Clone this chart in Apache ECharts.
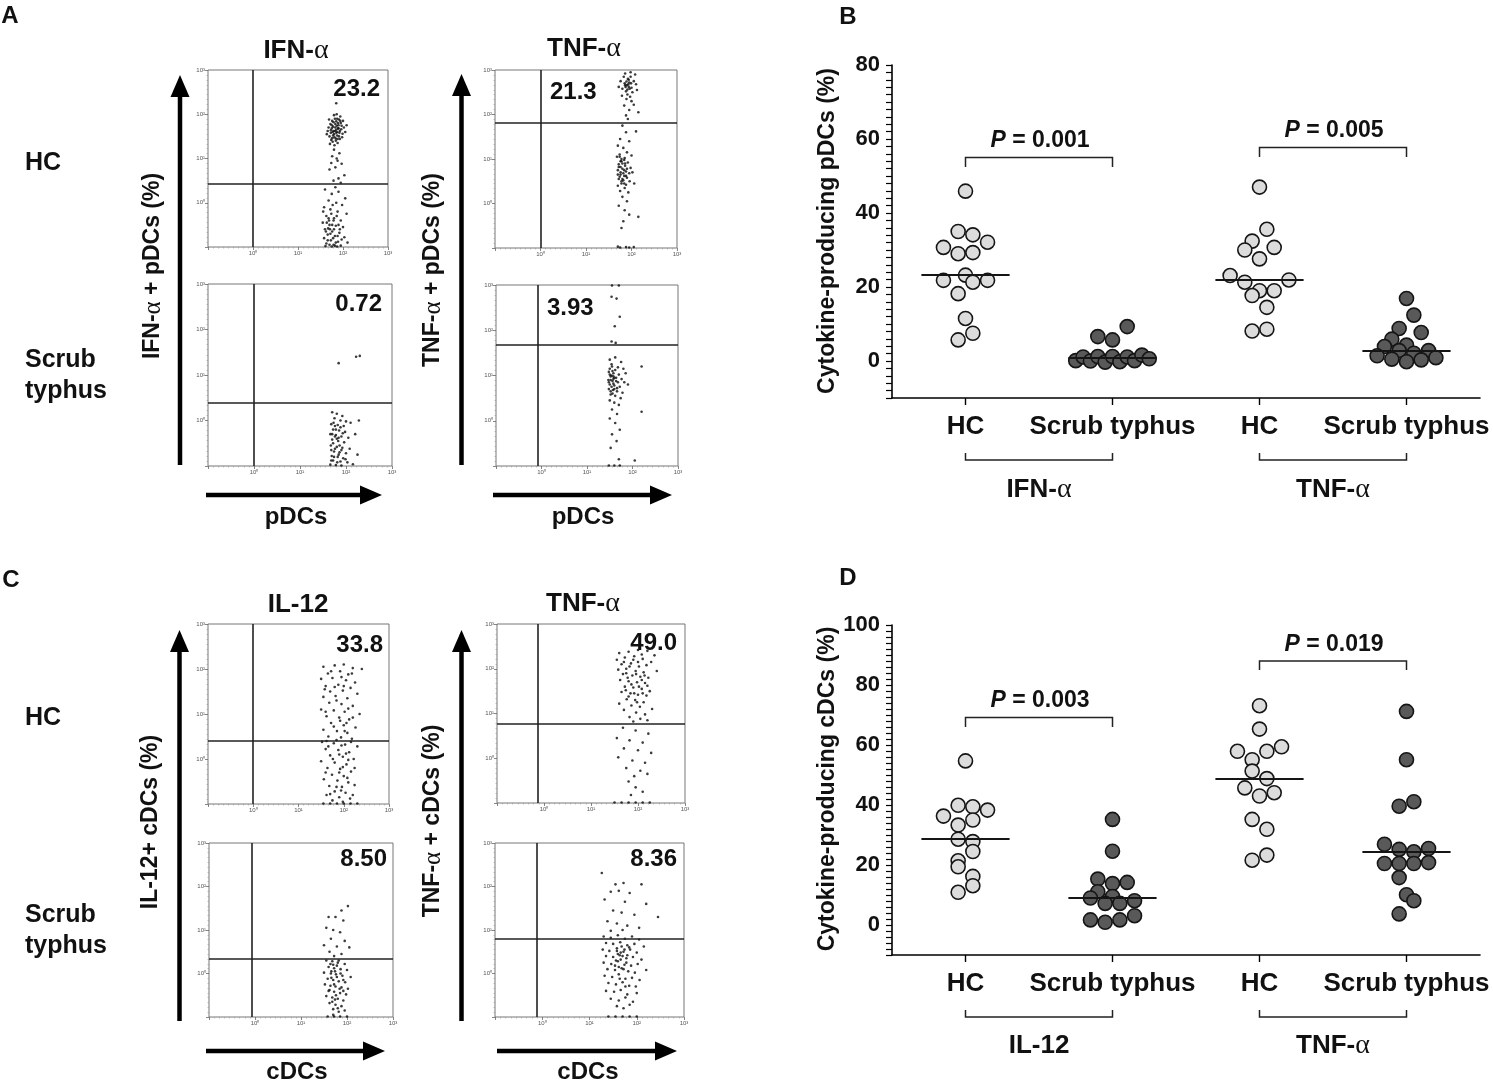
<!DOCTYPE html>
<html><head><meta charset="utf-8">
<script src="https://cdn.jsdelivr.net/npm/echarts@6.0.0/dist/echarts.min.js"></script>
<style>html,body{margin:0;padding:0;background:#fff}#c{width:1493px;height:1082px}</style>
</head><body><div id="c"></div>
<script>
// ---------------- DATA ----------------
// Flow cytometry dot plots, coordinates in log10 units (x: marker, y: cytokine)
const flowA_HC_IFN = [[1.85,1.65],[1.78,1.72],[1.92,1.58],[1.70,1.50],[1.95,1.80],[1.82,1.90],[1.74,1.42],[1.88,1.35],[2.02,1.70],[1.66,1.62],[1.80,1.55],[1.90,1.75],[1.76,1.85],[1.98,1.48],[1.84,1.45],[1.72,1.78],[1.94,1.95],[1.86,2.00],[1.68,1.70],[2.05,1.60],[1.79,1.62],[1.87,1.52],[1.73,1.58],[1.96,1.66],[1.83,1.78],[1.77,1.38],[1.91,1.88],[1.69,1.88],[2.00,1.85],[1.81,1.30],[1.89,1.68],[1.75,1.68],[1.85,1.84],[1.93,1.44],[1.71,1.33],[1.99,1.56],[1.80,1.98],[1.64,1.55],[2.08,1.75],[1.87,1.60],
 [1.83,1.70],[1.77,1.60],[1.89,1.80],[1.81,1.48],[1.93,1.62],[1.75,1.75],[1.87,1.90],[1.79,1.82],[1.91,1.50],[1.85,1.58],[1.73,1.64],[1.97,1.74],[1.84,1.40],[1.78,1.52],[1.90,1.68],[1.82,1.62],[1.86,1.74],[1.76,1.46],[1.94,1.85],[1.88,1.44],
 [1.85,2.25],[1.80,1.20],[1.92,1.12],[1.76,1.05],[1.88,0.95],[1.97,0.88],[1.83,0.80],[1.70,0.75],[2.03,0.62],[1.90,0.55],[1.79,0.50],[1.95,0.45],[1.86,1.00],[1.74,0.90],
 [1.60,0.30],[1.75,0.20],[1.90,0.25],[2.05,0.10],[1.68,0.05],[1.85,0.00],[1.98,-0.05],[1.58,-0.10],[1.72,-0.15],[1.88,-0.20],[2.08,-0.25],[1.63,-0.30],[1.80,-0.35],[1.95,-0.40],[1.55,-0.45],[1.70,-0.50],[1.84,-0.52],[2.00,-0.55],[1.60,-0.60],[1.76,-0.65],[1.92,-0.68],[1.66,-0.72],[1.82,-0.75],[2.03,-0.78],[1.58,-0.80],[1.73,-0.85],[1.89,-0.88],[1.63,-0.92],[1.79,-0.95],[1.95,-0.97],[1.69,-0.40],[1.86,-0.30],[1.56,-0.20],[1.77,-0.05],[1.93,-0.60],[1.61,-0.98],[1.75,-0.99],[1.87,-0.99],[2.10,-0.90],[1.83,0.35],[1.67,-0.58],[1.97,-0.83],
 [1.66,-0.85],[1.72,-0.70],[1.78,-0.80],[1.84,-0.90],[1.70,-0.95],[1.76,-0.50],[1.62,-0.65],[1.80,-0.60],[1.88,-0.75],[1.68,-0.35],[1.74,-0.25],[1.90,-0.50],[1.64,-0.45],[1.82,-0.97],[1.71,-0.60],[1.79,-0.40]];
const flowA_ST_IFN = [[1.84,1.26],[2.22,1.40],[2.30,1.42],
 [1.70,0.18],[1.80,0.15],[1.92,0.10],[1.75,0.05],[1.88,0.00],[2.00,-0.02],[1.68,-0.08],[1.82,-0.10],[1.95,-0.12],[2.10,-0.05],[2.28,0.00],[1.72,-0.20],[1.85,-0.22],[1.98,-0.25],[1.66,-0.30],[1.78,-0.32],[1.90,-0.35],[2.05,-0.38],[2.20,-0.30],[1.70,-0.42],[1.83,-0.45],[1.96,-0.48],[1.67,-0.55],[1.80,-0.58],[1.92,-0.60],[2.08,-0.62],[1.74,-0.68],[1.86,-0.70],[2.00,-0.72],[1.69,-0.78],[1.82,-0.80],[1.94,-0.83],[2.25,-0.75],[1.72,-0.88],[1.88,-0.90],[2.03,-0.92],[1.66,-0.97],[1.78,-0.98],[1.90,-0.99],[2.15,-0.96],[1.76,-0.12],[1.93,-0.28],[1.68,-0.65],[1.84,-0.38],[1.99,-0.85],
 [1.72,-0.50],[1.76,-0.62],[1.80,-0.40],[1.70,-0.30],[1.86,-0.55],[1.74,-0.80],[1.78,-0.20],[1.84,-0.75],[1.68,-0.88],[1.90,-0.65],[1.73,-0.05],[1.81,-0.92],[1.76,-0.35],[1.88,-0.15]];
const flowA_HC_TNF = [[1.90,2.66],[1.95,2.72],[2.00,2.60],[1.85,2.70],[1.92,2.80],[2.05,2.75],[1.80,2.58],[1.88,2.52],[1.98,2.85],[2.10,2.68],[1.83,2.85],[1.94,2.62],[2.02,2.50],[1.76,2.75],[1.91,2.45],[2.08,2.90],[1.86,2.92],[1.97,2.40],[1.79,2.42],[2.12,2.55],[1.89,2.35],[2.00,2.30],[1.84,2.20],[1.95,2.10],[2.15,2.05],[1.88,1.98],[1.92,1.90],[2.05,2.22],[1.72,2.62],[1.98,2.95],
 [1.93,2.68],[1.89,2.74],[1.96,2.58],[1.87,2.62],[1.99,2.70],[1.91,2.56],[1.94,2.78],[1.86,2.66],
 [1.80,1.75],[1.88,1.60],[1.75,1.45],[1.95,1.40],[2.10,1.62],[1.70,1.30],[1.82,1.25],[1.90,1.15],[1.74,1.10],[1.68,1.05],[1.85,1.02],[2.00,1.08],[1.78,0.95],[1.92,0.92],[1.72,0.88],[1.86,0.85],[1.98,0.80],[1.80,0.78],[1.70,0.75],[1.88,0.72],[1.95,0.68],[1.76,0.65],[1.84,0.62],[2.02,0.70],[1.90,0.58],[1.72,0.55],[1.82,0.52],[1.96,0.50],[1.78,0.45],[1.88,0.42],[1.70,0.40],[2.06,0.45],[1.85,0.35],[1.75,0.28],[1.93,0.25],[1.80,0.15],[1.90,0.05],[1.72,-0.05],[1.85,-0.15],[1.95,-0.25],[1.82,-0.40],[2.15,-0.30],[1.78,-0.55],[1.88,-0.98],[1.75,-0.99],[1.95,-0.99],[2.05,-0.98],[1.70,-0.97],[1.84,0.98],[1.76,0.82],
 [1.76,0.70],[1.80,0.90],[1.74,0.60],[1.84,0.75],[1.78,1.00],[1.82,0.68],[1.72,0.82],[1.88,0.62],[1.76,0.95],[1.86,0.90],[1.70,0.65],[1.80,0.55],[1.90,0.78],[1.78,0.50],[1.74,1.05],[1.84,0.45]];
const flowA_ST_TNF = [[1.54,2.74],[1.65,2.70],[1.72,2.30],[1.61,2.09],[1.54,1.75],[1.63,1.72],[2.20,1.20],[2.20,0.20],[1.55,2.99],[1.70,2.99],[2.05,-0.88],[1.70,-0.85],
 [1.50,1.35],[1.62,1.40],[1.75,1.30],[1.55,1.20],[1.68,1.18],[1.80,1.15],[1.48,1.08],[1.58,1.05],[1.70,1.02],[1.85,1.05],[1.52,0.98],[1.64,0.95],[1.76,0.92],[1.47,0.90],[1.56,0.88],[1.68,0.85],[1.82,0.85],[1.50,0.80],[1.60,0.78],[1.72,0.75],[1.90,0.80],[1.48,0.70],[1.57,0.68],[1.66,0.65],[1.78,0.62],[1.52,0.58],[1.62,0.55],[1.74,0.50],[1.50,0.45],[1.60,0.40],[1.70,0.35],[1.55,0.25],[1.66,0.15],[1.50,0.05],[1.62,-0.05],[1.72,-0.20],[1.55,-0.30],[1.65,-0.45],[1.52,-0.60],[1.60,-0.99],[1.48,-0.99],[1.72,-0.99],[1.54,1.00],[1.66,0.72],[1.58,0.92],
 [1.52,0.90],[1.56,1.10],[1.60,0.95],[1.50,1.02],[1.54,0.75],[1.58,0.82],[1.62,1.12],[1.48,0.85],[1.64,0.88],[1.52,0.65],[1.56,0.60],[1.60,0.70],[1.50,1.15],[1.58,0.98],[1.54,1.25]];
const flowC_HC_IL12 = [[1.55,2.05],[1.80,2.08],[2.00,2.10],[2.20,2.02],[1.65,1.90],[1.92,1.95],[2.10,1.88],[2.40,2.00],[1.50,1.78],[1.75,1.80],[2.05,1.75],[2.25,1.70],[1.60,1.62],[1.88,1.65],[2.15,1.58],[1.70,1.50],[1.98,1.52],[2.30,1.45],[1.55,1.38],[1.82,1.40],[2.08,1.35],[1.68,1.25],[1.95,1.22],[2.20,1.18],[1.50,1.10],[1.78,1.08],[2.02,1.05],[2.35,1.00],[1.62,0.95],[1.90,0.92],[2.12,0.88],[1.72,0.80],[2.00,0.75],[2.26,0.70],[1.55,0.65],[1.85,0.62],[2.08,0.58],[1.66,0.50],[1.94,0.48],[2.18,0.45],[1.52,0.38],[1.78,0.35],[2.03,0.32],[2.30,0.28],[1.60,0.22],[1.88,0.20],[2.12,0.15],[1.70,0.08],[1.98,0.05],[2.22,0.00],[1.50,-0.05],[1.80,-0.08],[2.06,-0.12],[1.64,-0.20],[1.92,-0.22],[2.16,-0.28],[1.74,-0.35],[2.00,-0.38],[1.56,-0.45],[1.86,-0.48],[2.10,-0.52],[1.68,-0.60],[1.96,-0.62],[2.24,-0.58],[1.80,-0.72],[2.04,-0.75],[1.62,-0.80],[1.90,-0.85],[2.14,-0.88],[1.75,-0.92],[1.98,-0.95],[1.55,-0.99],[1.70,-0.99],[1.85,-0.99],[2.00,-0.99],[2.15,-0.99],[2.30,-0.99],[1.95,0.30],[2.05,0.12],[1.84,0.42],[2.10,-0.02],[1.90,-0.30],
 [1.72,1.95],[1.95,1.82],[2.18,1.90],[1.58,1.55],[2.00,1.62],[1.84,1.30],[2.10,1.12],[1.60,1.05],[1.92,0.85],[2.20,0.92],[1.78,0.72],[2.02,0.62],[1.62,0.40],[1.90,0.10],[2.16,0.38],[1.76,0.00],[1.98,-0.18],[2.24,-0.20],[1.60,-0.30],[1.84,-0.62],[2.08,-0.42],[1.70,-0.78],[1.94,-0.70],[2.20,-0.80],[1.80,1.60],[2.06,0.80],[1.66,0.28]];
const flowC_HC_TNF = [[1.60,2.35],[1.80,2.38],[2.00,2.42],[2.20,2.40],[2.35,2.30],[1.55,2.20],[1.72,2.25],[1.92,2.28],[2.10,2.22],[2.28,2.15],[1.65,2.10],[1.85,2.12],[2.02,2.05],[2.18,2.08],[1.58,1.98],[1.75,2.00],[1.95,1.95],[2.12,1.92],[2.40,1.95],[1.68,1.88],[1.88,1.85],[2.05,1.82],[2.22,1.80],[1.62,1.75],[1.80,1.72],[1.98,1.70],[2.15,1.68],[1.72,1.60],[1.90,1.58],[2.08,1.55],[2.25,1.50],[1.65,1.48],[1.84,1.45],[2.00,1.42],[2.18,1.40],[1.76,1.32],[1.94,1.30],[2.12,1.25],[1.60,1.22],[1.86,1.18],[2.04,1.15],[2.30,1.10],[1.70,1.08],[1.96,1.02],[2.15,0.98],[1.82,0.92],[2.05,0.88],[1.90,0.82],[2.20,0.85],[1.75,1.90],[2.08,1.75],
 [1.70,2.15],[1.90,2.20],[2.08,2.32],[1.82,2.05],[2.00,2.15],[1.78,1.80],[1.96,1.88],[2.14,1.85],[1.86,1.65],[2.02,1.60],[1.74,1.52],[1.92,1.45],[2.10,1.45],[1.80,1.38],[2.20,1.62],[1.98,1.25],
 [1.68,0.68],[1.95,0.62],[2.22,0.55],[1.55,0.45],[1.82,0.40],[2.10,0.35],[1.70,0.22],[2.00,0.18],[2.28,0.12],[1.58,0.02],[1.88,-0.05],[2.15,-0.10],[1.75,-0.22],[2.05,-0.28],[1.92,-0.40],[2.20,-0.35],[1.80,-0.52],[1.95,-0.65],[2.10,-0.75],[1.85,-0.82],[1.50,-0.99],[1.65,-0.99],[1.80,-0.99],[1.95,-0.99],[2.10,-0.99],[2.25,-0.99]];
const flowC_ST_IL12 = [[2.02,1.55],[1.88,1.45],[1.60,1.30],[1.75,1.30],[1.92,1.22],[1.55,1.05],[1.70,1.00],[1.85,0.95],[1.65,0.80],[1.95,0.75],[1.50,0.65],[1.78,0.62],[2.05,0.60],[1.62,0.50],[1.88,0.45],[1.72,0.40],
 [1.55,0.30],[1.68,0.28],[1.80,0.25],[1.95,0.22],[1.60,0.15],[1.72,0.12],[1.86,0.10],[2.00,0.08],[1.50,0.02],[1.65,0.00],[1.76,-0.02],[1.90,-0.05],[2.08,-0.08],[1.58,-0.12],[1.70,-0.15],[1.82,-0.18],[1.96,-0.20],[1.52,-0.25],[1.64,-0.28],[1.75,-0.30],[1.88,-0.32],[2.02,-0.35],[1.60,-0.40],[1.72,-0.42],[1.85,-0.45],[1.98,-0.48],[1.55,-0.52],[1.68,-0.55],[1.80,-0.58],[1.92,-0.62],[1.62,-0.68],[1.75,-0.72],[1.88,-0.75],[1.70,-0.82],[1.82,-0.88],[1.95,-0.85],[1.58,-0.99],[1.72,-0.99],[1.85,-0.99],[2.00,-0.99],[1.66,-0.10],[1.78,0.18],[1.92,-0.40],[1.74,-0.60],
 [1.66,0.05],[1.72,-0.25],[1.78,-0.08],[1.70,0.20],[1.84,-0.35],[1.62,-0.38],[1.76,-0.50],[1.86,0.00],[1.68,-0.65],[1.80,-0.80],[1.74,0.05],[1.92,-0.15],[1.64,0.22],[1.82,0.30],[1.70,-0.95]];
const flowC_ST_TNF = [[1.26,2.31],[1.55,2.05],[1.72,2.08],[2.10,2.05],[1.45,1.88],[1.62,1.90],[1.85,1.85],[1.32,1.70],[1.75,1.65],[2.20,1.60],[1.50,1.45],[1.68,1.40],[1.95,1.35],[2.45,1.30],[1.38,1.20],[1.58,1.15],[1.80,1.10],[2.05,1.05],[1.45,0.98],[1.70,1.00],
 [1.30,0.85],[1.45,0.82],[1.60,0.88],[1.75,0.80],[1.90,0.85],[2.05,0.78],[1.35,0.70],[1.50,0.68],[1.65,0.72],[1.80,0.65],[1.95,0.68],[2.15,0.62],[1.28,0.55],[1.42,0.52],[1.58,0.58],[1.72,0.50],[1.86,0.55],[2.00,0.48],[1.35,0.40],[1.50,0.38],[1.64,0.42],[1.78,0.35],[1.92,0.38],[2.10,0.32],[1.30,0.25],[1.46,0.22],[1.60,0.28],[1.74,0.20],[1.88,0.18],[2.02,0.22],[1.38,0.10],[1.54,0.08],[1.68,0.12],[1.82,0.05],[1.96,0.02],[2.20,0.08],[1.32,-0.05],[1.48,-0.08],[1.62,-0.02],[1.76,-0.12],[1.90,-0.10],[2.06,-0.15],[1.40,-0.22],[1.56,-0.25],[1.70,-0.20],[1.84,-0.28],[1.98,-0.30],[1.35,-0.40],[1.52,-0.42],[1.66,-0.38],[1.80,-0.48],[2.00,-0.45],[1.45,-0.58],[1.62,-0.62],[1.76,-0.55],[1.92,-0.65],[1.58,-0.75],[1.72,-0.80],[1.85,-0.72],[1.40,-0.99],[1.55,-0.99],[1.70,-0.99],[1.85,-0.99],[2.00,-0.99],
 [1.60,0.45],[1.66,0.32],[1.70,0.40],[1.56,0.30],[1.74,0.55],[1.62,0.15],[1.68,0.62],[1.80,0.42],[1.58,0.52],[1.72,0.10],[1.64,-0.12],[1.78,0.25],[1.84,0.60],[1.54,0.18],[1.76,-0.30],[1.66,0.48]];

// gates (log10 units) and quadrant percentages
const flowGateX = [0.00, 0.00, 0.00, -0.08, -0.02, -0.13, -0.08, -0.12];
const flowGateY = [0.42, 0.38, 1.82, 1.67, 0.41, 0.76, 0.34, 0.80];
const flowPct   = ['23.2', '0.72', '21.3', '3.93', '33.8', '49.0', '8.50', '8.36'];
const flowTickLabels = ['10\u2070', '10\u00b9', '10\u00b2', '10\u00b3'];

// Dot plots
const groupCats = ['HC', 'Scrub typhus', 'HC', 'Scrub typhus'];
// B: cytokine-producing pDCs (%)
const pIfnHC   = [45.9,35.0,34.1,30.7,32.1,29.0,29.3,23.2,21.8,21.3,21.8,18.2,11.5,5.7,7.5];
const pIfnHCdx = [0,-0.05,0.05,-0.15,0.15,-0.05,0.05,0,-0.15,0.05,0.15,-0.05,0,-0.05,0.05];
const pIfnST   = [9.3,6.6,5.7,0.1,1.1,0.0,1.2,-0.3,1.2,-0.2,1.1,0.1,1.6,0.6];
const pIfnSTdx = [0.10,-0.10,0,-0.25,-0.20,-0.15,-0.10,-0.05,0,0.05,0.10,0.15,0.20,0.25];
const pTnfHC   = [47.0,35.6,32.4,30.7,30.0,27.6,23.1,21.3,21.9,19.0,19.0,17.7,14.5,8.1,8.6];
const pTnfHCdx = [0,0.05,-0.05,0.10,-0.10,0,-0.20,-0.10,0.20,0,0.10,-0.05,0.05,-0.05,0.05];
const pTnfST   = [16.9,12.4,8.8,7.7,5.9,3.9,4.3,2.8,2.1,2.8,1.4,0.5,-0.2,0.3,0.9];
const pTnfSTdx = [0,0.05,-0.05,0.10,-0.10,-0.15,0,-0.05,0.05,0.15,-0.20,-0.10,0,0.10,0.20];
const pMedians = [23.2, 0.9, 21.9, 2.8];
// D: cytokine-producing cDCs (%)
const cIl12HC   = [54.7,39.9,39.4,36.3,38.3,33.3,35.0,28.6,27.8,24.5,21.4,19.4,16.2,13.1,10.9];
const cIl12HCdx = [0,-0.05,0.05,-0.15,0.15,-0.05,0.05,-0.05,0.05,0.05,-0.05,-0.05,0.05,0.05,-0.05];
const cIl12ST   = [35.2,24.6,15.3,13.8,14.2,11.1,9.0,9.5,7.2,7.2,8.1,1.7,0.9,1.7,3.1];
const cIl12STdx = [0,0,-0.10,0,0.10,-0.10,-0.15,0,-0.05,0.05,0.15,-0.15,-0.05,0.05,0.15];
const cTnfHC    = [73.1,65.3,57.9,55.1,57.9,59.4,51.3,48.8,45.7,43.0,44.1,35.2,31.9,21.6,23.3];
const cTnfHCdx  = [0,0,-0.15,-0.05,0.05,0.15,-0.05,0.05,-0.10,0,0.10,-0.05,0.05,-0.05,0.05];
const cTnfST    = [71.2,55.1,41.1,39.6,26.9,25.2,24.4,25.5,20.5,20.5,20.5,20.8,15.8,10.1,8.1,3.7];
const cTnfSTdx  = [0,0,0.05,-0.05,-0.15,-0.05,0.05,0.15,-0.15,-0.05,0.05,0.15,-0.05,0,0.05,-0.05];
const cMedians  = [28.6, 9.0, 48.8, 24.4];
const pValuesB = ['0.001', '0.005'];
const pValuesD = ['0.003', '0.019'];

// ---------------- LAYOUT / STYLE ----------------
const FF = '"Liberation Sans", Arial, Helvetica, sans-serif';
const SERIF = '"Liberation Serif", "DejaVu Serif", serif';
const INK = '#111';
const flowData = [flowA_HC_IFN, flowA_ST_IFN, flowA_HC_TNF, flowA_ST_TNF, flowC_HC_IL12, flowC_HC_TNF, flowC_ST_IL12, flowC_ST_TNF];
const flowBoxes = [
  [208,70,180,177],[208,284,184,182],[495,70,182,178],[496,285,182,181],
  [208,624,181,180],[497,624,188,179],[209,843,184,174],[495,843,189,174]
];
const dotGrids = [{left:892, top:65, width:588, height:333}, {left:892, top:625, width:588, height:330}];

const chart = echarts.init(document.getElementById('c'), null, {renderer:'canvas'});

const grids = [], xAxes = [], yAxes = [], series = [];
flowBoxes.forEach((b, i) => {
  grids.push({left:b[0], top:b[1], width:b[2], height:b[3], show:true, borderColor:'#777', borderWidth:1, backgroundColor:'#fff', containLabel:false, outerBoundsMode:'none'});
  const ax = {
    gridIndex:i, type:'value', min:-1, max:3, interval:1,
    axisLine:{show:false, onZero:false},
    axisTick:{show:true, length:3, lineStyle:{color:'#666', width:0.8}},
    minorTick:{show:true, splitNumber:9, length:1.5, lineStyle:{color:'#999', width:0.6}},
    splitLine:{show:false}, minorSplitLine:{show:false},
    axisLabel:{fontSize:6, color:'#555', margin:3, fontFamily:FF,
      formatter: v => (v >= 0 && v <= 3 && Number.isInteger(v)) ? flowTickLabels[v] : ''}
  };
  xAxes.push(Object.assign({position:'bottom'}, ax));
  yAxes.push(Object.assign({position:'left'}, ax));
  series.push({
    type:'scatter', xAxisIndex:i, yAxisIndex:i, data:flowData[i],
    symbolSize:2.6, itemStyle:{color:'#0a0a0a'}, silent:true,
    markLine:{silent:true, symbol:'none', label:{show:false}, animation:false,
      lineStyle:{color:'#222', width:1.6, type:'solid'},
      data:[{xAxis:flowGateX[i]}, {yAxis:flowGateY[i]}]}
  });
});

dotGrids.forEach((g, k) => {
  const gi = 8 + k;
  grids.push(Object.assign({containLabel:false, outerBoundsMode:'none'}, g));
  xAxes.push({gridIndex:gi, type:'value', min:0.5, max:4.5, show:false, position:'bottom'});
  xAxes.push({gridIndex:gi, type:'category', position:'bottom', data:groupCats, boundaryGap:true,
    axisLine:{show:true, onZero:false, lineStyle:{color:'#000', width:1.6}},
    axisTick:{show:true, alignWithLabel:true, length:7, lineStyle:{color:'#000', width:1.4}},
    axisLabel:{interval:0, fontSize:26, fontWeight:'bold', color:INK, margin:16, fontFamily:FF},
    splitLine:{show:false}});
  yAxes.push({gridIndex:gi, type:'value', min:-10, max:(k === 0 ? 80 : 100), interval:2,
    axisLine:{show:true, lineStyle:{color:'#000', width:1.6}},
    axisTick:{show:true, length:6, lineStyle:{color:'#000', width:1.2}},
    splitLine:{show:false},
    axisLabel:{fontSize:22, fontWeight:'bold', color:INK, margin:12, fontFamily:FF,
      formatter: v => (v >= 0 && v % 20 === 0) ? String(v) : ''}});
});

function dotSeries(gridK, pos, vals, dx, med, dark) {
  const xi = 8 + gridK * 2, yi = 8 + gridK;
  return {
    type:'scatter', xAxisIndex:xi, yAxisIndex:yi, silent:true,
    data: vals.map((v, i) => [pos + dx[i], v]),
    symbolSize:14,
    itemStyle:{color: dark ? '#595959' : '#dcdcdc', borderColor:'#151515', borderWidth:1.6, opacity:1},
    markLine:{silent:true, symbol:'none', z:10, label:{show:false}, animation:false,
      lineStyle:{color:'#151515', width:2.2, type:'solid'},
      data:[[{coord:[pos - 0.3, med]}, {coord:[pos + 0.3, med]}]]}
  };
}
series.push(dotSeries(0, 1, pIfnHC, pIfnHCdx, pMedians[0], false));
series.push(dotSeries(0, 2, pIfnST, pIfnSTdx, pMedians[1], true));
series.push(dotSeries(0, 3, pTnfHC, pTnfHCdx, pMedians[2], false));
series.push(dotSeries(0, 4, pTnfST, pTnfSTdx, pMedians[3], true));
series.push(dotSeries(1, 1, cIl12HC, cIl12HCdx, cMedians[0], false));
series.push(dotSeries(1, 2, cIl12ST, cIl12STdx, cMedians[1], true));
series.push(dotSeries(1, 3, cTnfHC, cTnfHCdx, cMedians[2], false));
series.push(dotSeries(1, 4, cTnfST, cTnfSTdx, cMedians[3], true));

chart.setOption({animation:false, backgroundColor:'#fff', grid:grids, xAxis:xAxes, yAxis:yAxes, series:series});

// ---------------- ANNOTATIONS ----------------
function richOf(str, size) {
  const parts = str.split('\u03b1');
  let s = '';
  parts.forEach((p, i) => { if (p) s += '{b|' + p + '}'; if (i < parts.length - 1) s += '{a|\u03b1}'; });
  return {text:s, rich:{
    b:{fontSize:size, fontWeight:'bold', fontFamily:FF, fill:INK, color:INK},
    a:{fontSize:Math.round(size * 1.08), fontWeight:'normal', fontFamily:SERIF, fill:INK, color:INK}
  }};
}
function T(x, y, str, size, align, rot) {
  const r = richOf(str, size);
  return {type:'text', x:x, y:y, rotation:rot || 0, silent:true, z:50,
    style:{text:r.text, rich:r.rich, align:align || 'center', verticalAlign:'middle',
      textAlign:align || 'center', textVerticalAlign:'middle', fill:INK}};
}
function PT(x, y, val, size) {
  return {type:'text', x:x, y:y, silent:true, z:50,
    style:{text:'{i|P}{b| = ' + val + '}', align:'center', verticalAlign:'middle', textAlign:'center', textVerticalAlign:'middle',
      rich:{i:{fontSize:size, fontWeight:'bold', fontStyle:'italic', fontFamily:FF, fill:INK, color:INK},
            b:{fontSize:size, fontWeight:'bold', fontFamily:FF, fill:INK, color:INK}}}};
}
function PL(points, w) {
  return {type:'polyline', silent:true, z:40, shape:{points:points}, style:{stroke:'#222', lineWidth:w || 1.5, fill:null}};
}
function arrowV(x, top, bottom) {
  return [
    {type:'line', silent:true, z:40, shape:{x1:x, y1:bottom, x2:x, y2:top + 18}, style:{stroke:'#000', lineWidth:4.5}},
    {type:'polygon', silent:true, z:40, shape:{points:[[x, top], [x - 9.5, top + 22], [x + 9.5, top + 22]]}, style:{fill:'#000'}}
  ];
}
function arrowH(y, left, right) {
  return [
    {type:'line', silent:true, z:40, shape:{x1:left, y1:y, x2:right - 18, y2:y}, style:{stroke:'#000', lineWidth:4.5}},
    {type:'polygon', silent:true, z:40, shape:{points:[[right, y], [right - 22, y - 9.5], [right - 22, y + 9.5]]}, style:{fill:'#000'}}
  ];
}

const els = [];
// panel letters
els.push(T(10, 16, 'A', 24), T(848, 17, 'B', 24), T(11, 580, 'C', 24), T(848, 578, 'D', 24));
// column titles
els.push(T(296, 51, 'IFN-\u03b1', 26), T(584, 49, 'TNF-\u03b1', 26), T(298, 605, 'IL-12', 26), T(583, 604, 'TNF-\u03b1', 26));
// row labels
els.push(T(25, 163, 'HC', 25, 'left'), T(25, 360, 'Scrub', 25, 'left'), T(25, 391, 'typhus', 25, 'left'));
els.push(T(25, 718, 'HC', 25, 'left'), T(25, 915, 'Scrub', 25, 'left'), T(25, 946, 'typhus', 25, 'left'));
// flow axis titles
els.push(T(153, 266, 'IFN-\u03b1 + pDCs (%)', 23, 'center', Math.PI / 2));
els.push(T(433, 270, 'TNF-\u03b1 + pDCs (%)', 23, 'center', Math.PI / 2));
els.push(T(151, 822, 'IL-12+ cDCs (%)', 23, 'center', Math.PI / 2));
els.push(T(433, 821, 'TNF-\u03b1 + cDCs (%)', 23, 'center', Math.PI / 2));
els.push(T(296, 517, 'pDCs', 24), T(583, 517, 'pDCs', 24), T(297, 1072, 'cDCs', 24), T(588, 1072, 'cDCs', 24));
// arrows
[[180, 75, 465], [461.5, 74, 465], [179.5, 630, 1021], [461.5, 630, 1021]].forEach(a => els.push(...arrowV(a[0], a[1], a[2])));
[[495, 206, 382], [495, 493, 672], [1051, 206, 385], [1051, 497, 677]].forEach(a => els.push(...arrowH(a[0], a[1], a[2])));
// flow percentages
const pctPos = [[380, 89, 'right'], [382, 304, 'right'], [550, 92, 'left'], [547, 308, 'left'],
                [383, 645, 'right'], [677, 643, 'right'], [387, 859, 'right'], [677, 859, 'right']];
pctPos.forEach((p, i) => els.push(T(p[0], p[1], flowPct[i], 24, p[2])));
// dot plot axis titles
els.push(T(828, 231, 'Cytokine-producing pDCs (%)', 23, 'center', Math.PI / 2));
els.push(T(828, 789, 'Cytokine-producing cDCs (%)', 23, 'center', Math.PI / 2));

// brackets (x from axis scale)
function px(k, v) { return chart.convertToPixel({xAxisIndex: 8 + k * 2}, v); }
// B
{
  const x1 = px(0, 1), x2 = px(0, 2), x3 = px(0, 3), x4 = px(0, 4);
  els.push(PL([[x1, 167], [x1, 157.5], [x2, 157.5], [x2, 167]]));
  els.push(PT((x1 + x2) / 2 + 1, 141, pValuesB[0], 23));
  els.push(PL([[x3, 157], [x3, 147.5], [x4, 147.5], [x4, 157]]));
  els.push(PT((x3 + x4) / 2 + 1, 131, pValuesB[1], 23));
  els.push(PL([[x1, 453], [x1, 460], [x2, 460], [x2, 453]]));
  els.push(PL([[x3, 453], [x3, 460], [x4, 460], [x4, 453]]));
  els.push(T((x1 + x2) / 2, 490, 'IFN-\u03b1', 26), T((x3 + x4) / 2, 490, 'TNF-\u03b1', 26));
}
// D
{
  const x1 = px(1, 1), x2 = px(1, 2), x3 = px(1, 3), x4 = px(1, 4);
  els.push(PL([[x1, 727], [x1, 717.5], [x2, 717.5], [x2, 727]]));
  els.push(PT((x1 + x2) / 2 + 1, 701, pValuesD[0], 23));
  els.push(PL([[x3, 670], [x3, 661], [x4, 661], [x4, 670]]));
  els.push(PT((x3 + x4) / 2 + 1, 645, pValuesD[1], 23));
  els.push(PL([[x1, 1010], [x1, 1017], [x2, 1017], [x2, 1010]]));
  els.push(PL([[x3, 1010], [x3, 1017], [x4, 1017], [x4, 1010]]));
  els.push(T((x1 + x2) / 2, 1046, 'IL-12', 26), T((x3 + x4) / 2, 1046, 'TNF-\u03b1', 26));
}
chart.setOption({graphic:{elements:els}});
</script></body></html>
